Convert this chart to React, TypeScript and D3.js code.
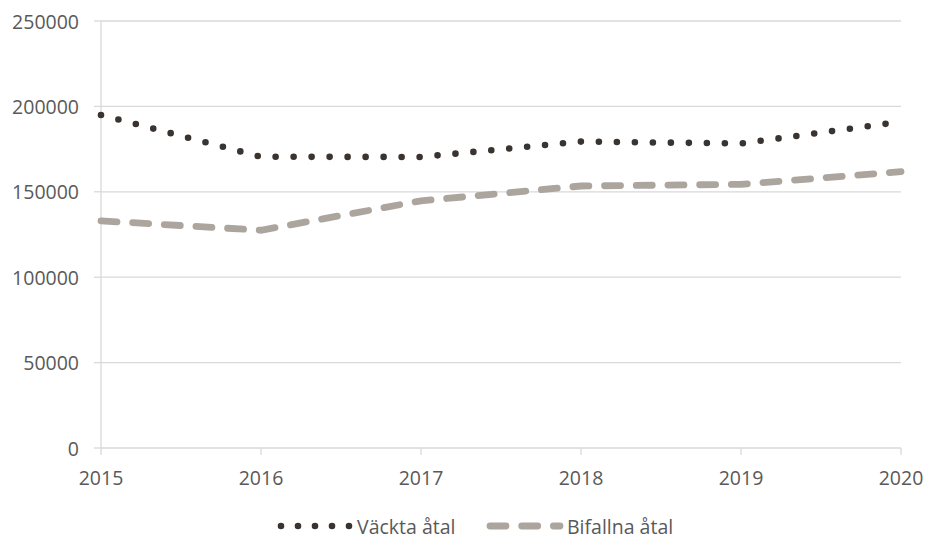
import React from "react";
import * as d3 from "d3";

const years = [2015, 2016, 2017, 2018, 2019, 2020];
const vacktaAtal = [195000, 170500, 170400, 179400, 178300, 191000];
const bifallnaAtal = [133000, 127500, 144700, 153400, 154400, 161800];
const yTicks = [0, 50000, 100000, 150000, 200000, 250000];
const seriesNames = ["Väckta åtal", "Bifallna åtal"];

const W = 926;
const H = 541;
const M = { left: 101, right: 901, top: 21, bottom: 448 };
const FONT = "'Open Sans', 'Liberation Sans', sans-serif";
const TXT = "#595959";
const GRID = "#d9d9d9";
const C_V = "#3a3431";
const C_B = "#aba59e";
const FS = 19.5;

export default function App() {
  const x = d3.scaleLinear().domain([2015, 2020]).range([M.left, M.right]);
  const y = d3.scaleLinear().domain([0, 250000]).range([M.bottom, M.top]);
  const line = d3
    .line<number>()
    .x((_, i) => x(years[i]))
    .y((d) => y(d))
    .curve(d3.curveLinear);

  return (
    <svg width={W} height={H} style={{ position: "absolute", left: 0, top: 0, background: "#fff" }}>
      <rect width={W} height={H} fill="#fff" />
      {yTicks.map((t) => (
        <g key={t}>
          <line x1={M.left} x2={M.right} y1={y(t)} y2={y(t)} stroke={GRID} strokeWidth={1.3} />
          <line x1={M.left - 7} x2={M.left} y1={y(t)} y2={y(t)} stroke={GRID} strokeWidth={1.3} />
          <text x={79} y={y(t)} textAnchor="end" dominantBaseline="central" fontFamily={FONT} fontSize={FS} fill={TXT}>
            {t}
          </text>
        </g>
      ))}
      <line x1={M.left} x2={M.left} y1={M.top} y2={M.bottom} stroke={GRID} strokeWidth={1.3} />
      {years.map((yr) => (
        <g key={yr}>
          <line x1={x(yr)} x2={x(yr)} y1={M.bottom} y2={M.bottom + 7} stroke={GRID} strokeWidth={1.3} />
          <text x={x(yr)} y={477} textAnchor="middle" dominantBaseline="central" fontFamily={FONT} fontSize={FS} fill={TXT}>
            {yr}
          </text>
        </g>
      ))}
      <path d={line(bifallnaAtal) || ""} fill="none" stroke={C_B} strokeWidth={6.8} strokeDasharray="16 15.7" strokeLinecap="round" />
      <path d={line(vacktaAtal) || ""} fill="none" stroke={C_V} strokeWidth={6.6} strokeDasharray="0 18" strokeLinecap="round" />
      {/* legend */}
      <line x1={281} x2={350} y1={526} y2={526} stroke={C_V} strokeWidth={6.6} strokeDasharray="0 17" strokeLinecap="round" />
      <text x={357} y={526} dominantBaseline="central" fontFamily={FONT} fontSize={FS} fill={TXT}>
        {seriesNames[0]}
      </text>
      <line x1={490} x2={560} y1={526} y2={526} stroke={C_B} strokeWidth={6.8} strokeDasharray="16 15.7" strokeLinecap="round" />
      <text x={567} y={526} dominantBaseline="central" fontFamily={FONT} fontSize={FS} fill={TXT}>
        {seriesNames[1]}
      </text>
    </svg>
  );
}
